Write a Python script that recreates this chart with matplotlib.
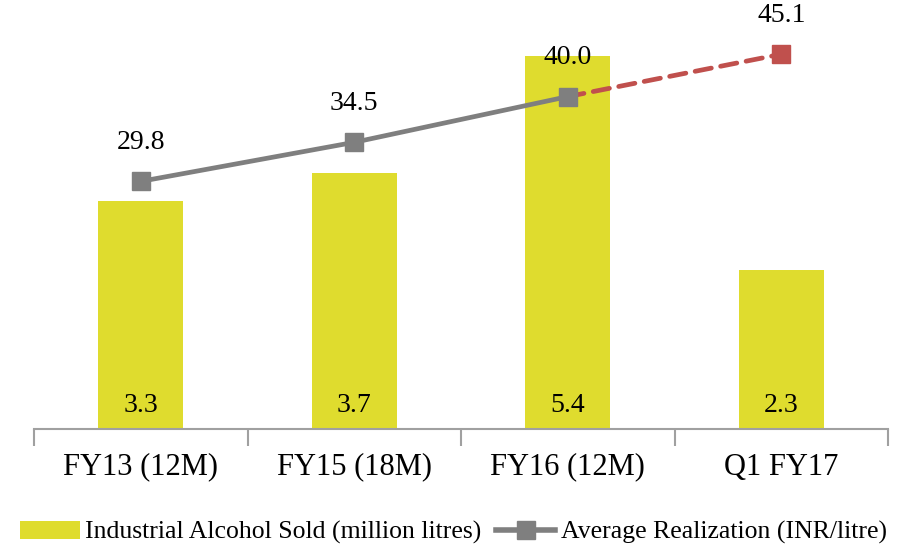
import matplotlib.pyplot as plt
from matplotlib.lines import Line2D
from matplotlib.patches import Patch

plt.rcParams['font.family'] = ['Liberation Serif', 'DejaVu Serif']

categories = ['FY13 (12M)', 'FY15 (18M)', 'FY16 (12M)', 'Q1 FY17']
alcohol_sold = [3.3, 3.7, 5.4, 2.3]
avg_realization = [29.8, 34.5, 40.0, 45.1]

bar_color = '#DFDC2E'
line_color = '#7F7F7F'
red_color = '#C0504D'

fig = plt.figure(figsize=(9.07, 5.5), dpi=100)
ax = fig.add_axes([34 / 907, 121 / 550, 854 / 907, 429 / 550])
x = list(range(len(categories)))

ax.bar(x, alcohol_sold, width=0.4, color=bar_color, zorder=1)
for xi, v in zip(x, alcohol_sold):
    ax.annotate(f'{v:.1f}', (xi, 0), xytext=(0, 17), textcoords='offset points',
                ha='center', va='center', fontsize=20)

ax.set_xlim(-0.5, 3.5)
ax.set_ylim(0, 429 / 69.1)
ax.set_yticks([])
for side in ['left', 'right', 'top']:
    ax.spines[side].set_visible(False)
ax.spines['bottom'].set_color('#A0A0A0')
ax.spines['bottom'].set_linewidth(1.5)
ax.set_xticks(x)
ax.set_xticklabels(categories, fontsize=22)
ax.tick_params(axis='x', which='major', length=0, pad=17)
ax.set_xticks([-0.5, 0.5, 1.5, 2.5, 3.5], minor=True)
ax.tick_params(axis='x', which='minor', length=12, width=1.5, color='#A0A0A0')

ax2 = ax.twinx()
ax2.set_ylim(0, 429 / 8.31)
ax2.axis('off')
ax2.plot(x[2:], avg_realization[2:], color=red_color, lw=3.4, ls=(0, (3.5, 2)),
         dash_capstyle='round', marker='s', markersize=13, markevery=[1], zorder=3)
ax2.plot(x[:3], avg_realization[:3], color=line_color, lw=3.4,
         marker='s', markersize=13, zorder=4)
for xi, v in zip(x, avg_realization):
    ax2.annotate(f'{v:.1f}', (xi, v), xytext=(0, 28), textcoords='offset points',
                 ha='center', va='center', fontsize=20)

handles = [Patch(facecolor=bar_color, edgecolor='none'),
           Line2D([0], [0], color=line_color, lw=4, marker='s', markersize=13)]
fig.legend(handles, ['Industrial Alcohol Sold (million litres)', 'Average Realization (INR/litre)'],
           loc='lower center', bbox_to_anchor=(0.5, -0.032), ncol=2, frameon=False,
           fontsize=18.5, handlelength=2.3, handletextpad=0.2, columnspacing=0.6)

fig.savefig('out.png', dpi=100)
